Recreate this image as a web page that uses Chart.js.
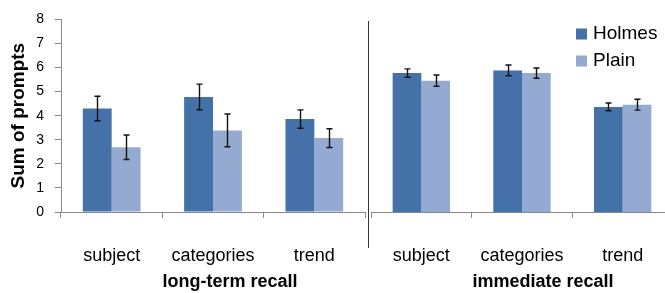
<!DOCTYPE html>
<html lang="en">
<head>
  <meta charset="UTF-8" />
  <title>Sum of prompts</title>
  <style>
    html, body {
      margin: 0;
      padding: 0;
      background: #fff;
    }
    .wrap {
      position: relative;
      width: 665px;
      height: 293px;
      overflow: hidden;
    }
    .box {
      position: absolute;
      top: 0;
      height: 293px;
    }
    #left { left: 0; width: 370px; }
    #right { left: 365px; width: 315px; }
  </style>
</head>
<body>
  <div class="wrap">
    <div class="box" id="left"><canvas id="chartA" width="370" height="293"></canvas></div>
    <div class="box" id="right"><canvas id="chartB" width="315" height="293"></canvas></div>
  </div>

  <script src="https://cdn.jsdelivr.net/npm/chart.js"></script>
  <script>
    // categories and groups
    const categories = ['subject', 'categories', 'trend'];
    const groups = ['long-term recall', 'immediate recall'];
    const seriesNames = ['Holmes', 'Plain'];
    const yTicks = [0, 1, 2, 3, 4, 5, 6, 7, 8];

    // long-term recall
    const longHolmes = [4.3, 4.78, 3.86];
    const longHolmesErr = [0.51, 0.53, 0.38];
    const longPlain = [2.69, 3.39, 3.07];
    const longPlainErr = [0.51, 0.68, 0.39];

    // immediate recall
    const immHolmes = [5.67, 5.78, 4.29];
    const immHolmesErr = [0.17, 0.22, 0.16];
    const immPlain = [5.36, 5.67, 4.38];
    const immPlainErr = [0.23, 0.21, 0.22];

    const colors = ['#4472a8', '#95aad1'];
    const axisGray = '#888888';
    const FONT = "'Liberation Sans', Arial, sans-serif";

    const errorBars = {
      id: 'errorBars',
      afterDatasetsDraw(chart) {
        const ctx = chart.ctx;
        const y = chart.scales.y;
        ctx.save();
        ctx.strokeStyle = '#111';
        ctx.lineWidth = 1.4;
        chart.data.datasets.forEach((ds, i) => {
          const meta = chart.getDatasetMeta(i);
          meta.data.forEach((bar, j) => {
            const v = ds.data[j], e = ds.err[j];
            const x = Math.round(bar.x) + 0.5;
            const y1 = y.getPixelForValue(v + e);
            const y2 = y.getPixelForValue(v - e);
            ctx.beginPath();
            ctx.moveTo(x, y1); ctx.lineTo(x, y2);
            ctx.moveTo(x - 3, y1); ctx.lineTo(x + 3, y1);
            ctx.moveTo(x - 3, y2); ctx.lineTo(x + 3, y2);
            ctx.stroke();
          });
        });
        ctx.restore();
      }
    };

    // bold group label under the category labels
    const groupLabel = {
      id: 'groupLabel',
      afterDraw(chart, args, opts) {
        const ctx = chart.ctx;
        const a = chart.chartArea;
        ctx.save();
        ctx.font = 'bold 18px ' + FONT;
        ctx.fillStyle = '#000';
        ctx.textAlign = 'center';
        ctx.textBaseline = 'middle';
        ctx.fillText(opts.text, (a.left + a.right) / 2 + opts.shift, 282);
        ctx.restore();
      }
    };

    const divider = {
      id: 'divider',
      afterDraw(chart) {
        const ctx = chart.ctx;
        const x = chart.chartArea.left - 2.5;
        ctx.save();
        ctx.strokeStyle = '#333';
        ctx.lineWidth = 1;
        ctx.beginPath();
        ctx.moveTo(x, 21); ctx.lineTo(x, 248);
        ctx.stroke();
        ctx.restore();
      }
    };

    const boxLegend = {
      id: 'boxLegend',
      afterDraw(chart) {
        const ctx = chart.ctx;
        ctx.save();
        ctx.font = '19px ' + FONT;
        ctx.textBaseline = 'middle';
        chart.data.datasets.forEach((ds, i) => {
          const cy = 34 + i * 27;
          ctx.fillStyle = ds.backgroundColor;
          ctx.fillRect(211, cy - 5.5, 11, 11);
          ctx.fillStyle = '#000';
          ctx.fillText(ds.label, 228, cy);
        });
        ctx.restore();
      }
    };

    function makeDatasets(h, he, p, pe) {
      return [
        { label: seriesNames[0], data: h, err: he, backgroundColor: colors[0] },
        { label: seriesNames[1], data: p, err: pe, backgroundColor: colors[1] }
      ];
    }

    function xScale() {
      return {
        grid: {
          offset: true,
          drawOnChartArea: false,
          drawTicks: true,
          tickLength: 6,
          color: axisGray
        },
        border: { color: axisGray, width: 1 },
        ticks: {
          color: '#000',
          font: { family: FONT, size: 18 },
          padding: 27,
          maxRotation: 0
        },
        afterFit(s) { s.height = 81; }
      };
    }

    function baseOptions(padding) {
      return {
        responsive: false,
        animation: false,
        layout: { padding: padding },
        datasets: {
          bar: { categoryPercentage: 0.57, barPercentage: 1.0 }
        },
        plugins: {
          legend: { display: false },
          tooltip: { enabled: false }
        }
      };
    }

    // long-term recall, with the y axis
    const optA = baseOptions({ top: 16, right: 5, bottom: 0, left: 0 });
    optA.scales = {
      x: xScale(),
      y: {
        min: 0,
        max: 8,
        afterBuildTicks(s) { s.ticks = yTicks.map(v => ({ value: v })); },
        grid: {
          drawOnChartArea: false,
          drawTicks: true,
          tickLength: 6,
          color: axisGray
        },
        border: { color: axisGray, width: 1 },
        ticks: {
          color: '#000',
          font: { family: FONT, size: 14 },
          padding: 11
        },
        title: {
          display: true,
          text: 'Sum of prompts',
          color: '#000',
          font: { family: FONT, size: 19, weight: 'bold' },
          padding: { top: 7, bottom: 0 }
        },
        afterFit(s) { s.width = 61; }
      }
    };
    optA.plugins.groupLabel = { text: groups[0], shift: 17 };

    new Chart(document.getElementById('chartA'), {
      type: 'bar',
      data: {
        labels: categories,
        datasets: makeDatasets(longHolmes, longHolmesErr, longPlain, longPlainErr)
      },
      options: optA,
      plugins: [errorBars, groupLabel]
    });

    // immediate recall, no y axis
    const optB = baseOptions({ top: 16, right: 7, bottom: 0, left: 5 });
    optB.scales = {
      x: xScale(),
      y: { min: 0, max: 8, display: false }
    };
    optB.plugins.groupLabel = { text: groups[1], shift: 21 };

    new Chart(document.getElementById('chartB'), {
      type: 'bar',
      data: {
        labels: categories,
        datasets: makeDatasets(immHolmes, immHolmesErr, immPlain, immPlainErr)
      },
      options: optB,
      plugins: [errorBars, groupLabel, divider, boxLegend]
    });
  </script>
</body>
</html>
